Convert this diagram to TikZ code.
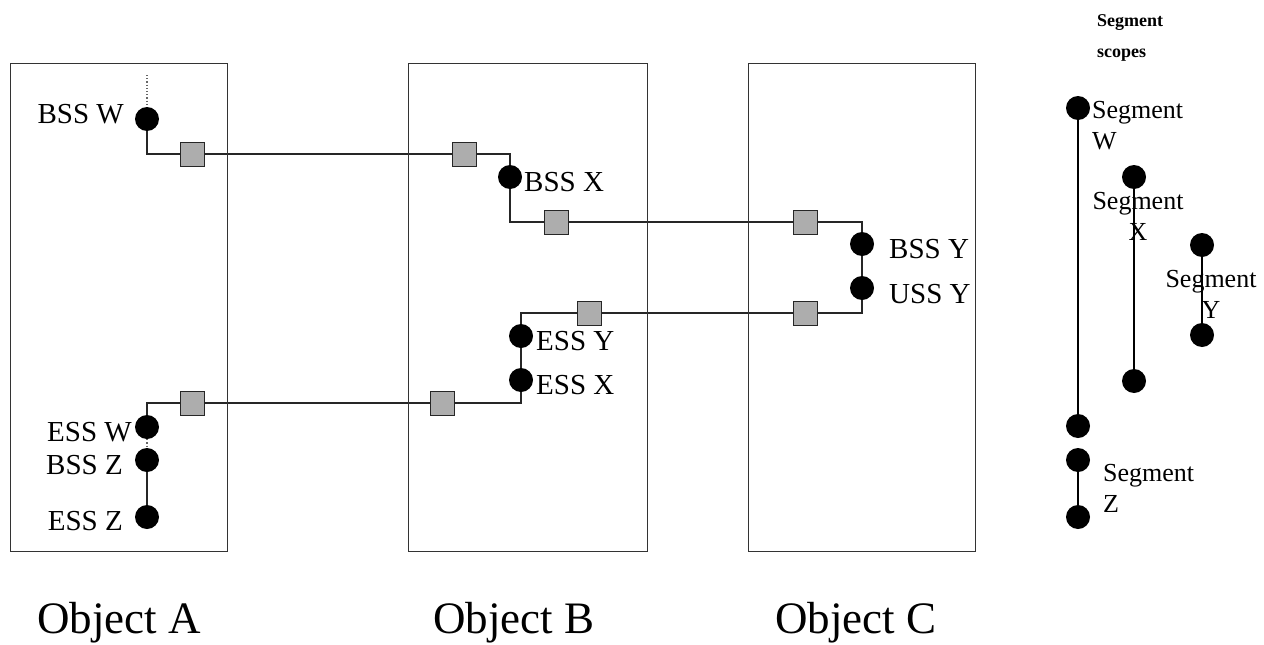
\documentclass[tikz,border=0pt]{standalone}
\usepackage{fontspec}
\setmainfont{Liberation Serif}
\pgfdeclarelayer{bg}
\pgfsetlayers{bg,main}
\begin{document}
\begin{tikzpicture}[x=1pt,y=-1pt,
  objbox/.style={draw=black!80,line width=1pt},
  dot/.style={circle,fill=black,draw=none,minimum size=24pt,inner sep=0pt},
  port/.style={rectangle,fill=black!32,draw=black!85,line width=1pt,minimum size=24pt,inner sep=0pt},
  wire/.style={draw=black!85,line width=1.2pt},
  stub/.style={draw=black!60,line width=1.2pt,dotted},
  lbl/.style={inner sep=0pt,font=\fontsize{29}{31}\selectfont},
  seglbl/.style={inner sep=0pt,font=\fontsize{26}{31}\selectfont},
  objlbl/.style={inner sep=0pt,font=\fontsize{45}{50}\selectfont,anchor=base west},
  headlbl/.style={inner sep=0pt,font=\fontsize{18}{31}\selectfont\bfseries,align=left,anchor=north west}]
\useasboundingbox (0,0) rectangle (1264,645);
% object boxes
\draw[objbox] (10,63) rectangle (227,551);
\draw[objbox] (408,63) rectangle (647,551);
\draw[objbox] (748,63) rectangle (975,551);
% dots
\node[dot] (bssw) at (147,119) {};
\node[dot] (bssx) at (510,177) {};
\node[dot] (bssy) at (862,244) {};
\node[dot] (ussy) at (862,288) {};
\node[dot] (essy) at (521,336) {};
\node[dot] (essx) at (521,380) {};
\node[dot] (essw) at (147,427) {};
\node[dot] (bssz) at (147,460) {};
\node[dot] (essz) at (147,517) {};
\coordinate (wtop) at (147,75);
% ports
\node[port] (pa1) at (192,154) {};
\node[port] (pb1) at (464,154) {};
\node[port] (pb2) at (556,222) {};
\node[port] (pc1) at (805,222) {};
\node[port] (pc2) at (805,313) {};
\node[port] (pb3) at (589,313) {};
\node[port] (pb4) at (442,403) {};
\node[port] (pa2) at (192,403) {};
% labels
\node[lbl,anchor=base east] at (124,123) {BSS W};
\node[lbl,anchor=base east] at (132,441) {ESS W};
\node[lbl,anchor=base east] at (123,474) {BSS Z};
\node[lbl,anchor=base east] at (123,530) {ESS Z};
\node[lbl,anchor=base west] at (524,191) {BSS X};
\node[lbl,anchor=base west] at (536,350) {ESS Y};
\node[lbl,anchor=base west] at (536,394) {ESS X};
\node[lbl,anchor=base west] at (889,258) {BSS Y};
\node[lbl,anchor=base west] at (889,303) {USS Y};
\node[objlbl] at (37,633) {Object A};
\node[objlbl] at (433,633) {Object B};
\node[objlbl] at (775,633) {Object C};
% connectors
\begin{pgfonlayer}{bg}
\draw[stub] (wtop) -- (bssw);
\draw[wire] (bssw) |- (pa1);
\draw[wire] (pa1) -- (pb1);
\draw[wire] (pb1) -| (bssx);
\draw[wire] (bssx) |- (pb2);
\draw[wire] (pb2) -- (pc1);
\draw[wire] (pc1) -| (bssy);
\draw[wire] (bssy) -- (ussy);
\draw[wire] (ussy) |- (pc2);
\draw[wire] (pc2) -- (pb3);
\draw[wire] (pb3) -| (essy);
\draw[wire] (essy) -- (essx);
\draw[wire] (essx) |- (pb4);
\draw[wire] (pb4) -- (pa2);
\draw[wire] (pa2) -| (essw);
\draw[stub] (essw) -- (bssz);
\draw[wire] (bssz) -- (essz);
\end{pgfonlayer}
% segment scopes legend
\node[headlbl] (head) at (1097,14) {Segment\\scopes};
\node[dot] (sw1) at (1078,108) {};
\node[dot] (sw2) at (1078,426) {};
\node[dot] (sx1) at (1134,177) {};
\node[dot] (sx2) at (1134,381) {};
\node[dot] (sy1) at (1202,245) {};
\node[dot] (sy2) at (1202,335) {};
\node[dot] (sz1) at (1078,460) {};
\node[dot] (sz2) at (1078,517) {};
\begin{pgfonlayer}{bg}
\draw[wire,draw=black] (sw1) -- (sw2);
\draw[wire,draw=black] (sx1) -- (sx2);
\draw[wire,draw=black] (sy1) -- (sy2);
\draw[wire,draw=black] (sz1) -- (sz2);
\end{pgfonlayer}
\node[seglbl,align=left,anchor=north west] at (1092,101) {Segment\\W};
\node[seglbl,align=center,anchor=north] at (1138,192) {Segment\\X};
\node[seglbl,align=center,anchor=north] at (1211,270) {Segment\\Y};
\node[seglbl,align=left,anchor=north west] at (1103,464) {Segment\\Z};
\end{tikzpicture}
\end{document}
